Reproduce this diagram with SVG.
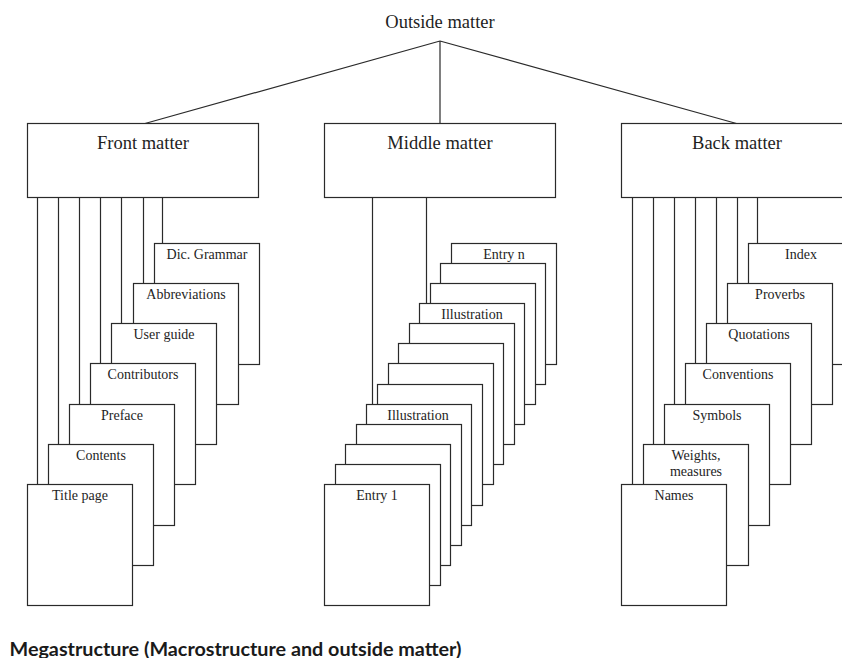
<svg xmlns="http://www.w3.org/2000/svg" width="842" height="658" viewBox="0 0 842 658">
<style>
  .box { fill: #fff; stroke: #2a2a2a; stroke-width: 1.2; }
  .pg { fill: #fff; stroke: #2a2a2a; stroke-width: 1.2; }
  .ln { fill: none; stroke: #2a2a2a; stroke-width: 1.2; }
  .t18 { font-family: "Liberation Serif", "Times New Roman", serif; font-size: 18.5px; fill: #1e1e1e; text-anchor: middle; }
  .t14 { font-family: "Liberation Serif", "Times New Roman", serif; font-size: 14px; fill: #1e1e1e; text-anchor: middle; }
  .cap { font-family: Lato, "Liberation Sans", Arial, sans-serif; font-weight: 700; font-size: 19px; fill: #1a1a1a; }
</style>
<rect width="842" height="658" fill="#fff"/>

<g id="outside-matter">
  <text class="t18" x="440" y="27.5">Outside matter</text>
</g>

<g id="connectors">
  <path class="ln" d="M440,41 L145,123.5 M440,41 L440,123.5 M440,41 L736.5,123.5"/>
  <!-- front matter links -->
  <path class="ln" d="M37.5,197.5 V484.5 M58.5,197.5 V444.5 M79.5,197.5 V404.5 M100.5,197.5 V363.5 M121.5,197.5 V323.5 M143.5,197.5 V283.5 M162.5,197.5 V243.5"/>
  <!-- middle matter links -->
  <path class="ln" d="M372.5,197.5 V404.5 M426.5,197.5 V303.5"/>
  <!-- back matter links -->
  <path class="ln" d="M632.5,197.5 V484.5 M653.5,197.5 V444.5 M674.5,197.5 V404.5 M695.5,197.5 V363.5 M716.5,197.5 V323.5 M737.5,197.5 V283.5 M757.5,197.5 V243.5"/>
</g>

<g id="front-matter">
  <rect class="box" x="27.5" y="123.5" width="231" height="74"/>
  <text class="t18" x="143" y="149">Front matter</text>
</g>
<g id="middle-matter">
  <rect class="box" x="324.5" y="123.5" width="231" height="74"/>
  <text class="t18" x="440" y="149">Middle matter</text>
</g>
<g id="back-matter">
  <rect class="box" x="621.5" y="123.5" width="231" height="74"/>
  <text class="t18" x="737" y="149">Back matter</text>
</g>

<!-- Front pages, back to front -->
<g id="dic-grammar"><rect class="pg" x="154.5" y="243.5" width="105" height="121"/><text class="t14" x="207" y="259">Dic. Grammar</text></g>
<g id="abbreviations"><rect class="pg" x="133.5" y="283.5" width="105" height="121"/><text class="t14" x="186" y="299">Abbreviations</text></g>
<g id="user-guide"><rect class="pg" x="111.5" y="323.5" width="105" height="121"/><text class="t14" x="164" y="339">User guide</text></g>
<g id="contributors"><rect class="pg" x="90.5" y="363.5" width="105" height="121"/><text class="t14" x="143" y="379">Contributors</text></g>
<g id="preface"><rect class="pg" x="69.5" y="404.5" width="105" height="121"/><text class="t14" x="122" y="420">Preface</text></g>
<g id="contents"><rect class="pg" x="48.5" y="444.5" width="105" height="121"/><text class="t14" x="101" y="460">Contents</text></g>
<g id="title-page"><rect class="pg" x="27.5" y="484.5" width="105" height="121"/><text class="t14" x="80" y="500">Title page</text></g>

<!-- Middle pages, back to front -->
<g id="entry-n"><rect class="pg" x="451.5" y="243.5" width="105" height="121"/><text class="t14" x="504" y="259">Entry n</text></g>
<g id="mid-p11"><rect class="pg" x="440.5" y="263.5" width="105" height="121"/></g>
<g id="mid-p10"><rect class="pg" x="430.5" y="283.5" width="105" height="121"/></g>
<g id="illustration-2"><rect class="pg" x="419.5" y="303.5" width="105" height="121"/><text class="t14" x="472" y="319">Illustration</text></g>
<g id="mid-p8"><rect class="pg" x="409.5" y="323.5" width="105" height="121"/></g>
<g id="mid-p7"><rect class="pg" x="398.5" y="343.5" width="105" height="121"/></g>
<g id="mid-p6"><rect class="pg" x="388.5" y="363.5" width="105" height="121"/></g>
<g id="mid-p5"><rect class="pg" x="377.5" y="384.5" width="105" height="121"/></g>
<g id="illustration-1"><rect class="pg" x="366.5" y="404.5" width="105" height="121"/><text class="t14" x="418" y="420">Illustration</text></g>
<g id="mid-p3"><rect class="pg" x="356.5" y="424.5" width="105" height="121"/></g>
<g id="mid-p2"><rect class="pg" x="345.5" y="444.5" width="105" height="121"/></g>
<g id="mid-p1"><rect class="pg" x="335.5" y="464.5" width="105" height="121"/></g>
<g id="entry-1"><rect class="pg" x="324.5" y="484.5" width="105" height="121"/><text class="t14" x="377" y="500">Entry 1</text></g>

<!-- Back pages, back to front -->
<g id="index"><rect class="pg" x="748.5" y="243.5" width="105" height="121"/><text class="t14" x="801" y="259">Index</text></g>
<g id="proverbs"><rect class="pg" x="727.5" y="283.5" width="105" height="121"/><text class="t14" x="780" y="299">Proverbs</text></g>
<g id="quotations"><rect class="pg" x="706.5" y="323.5" width="105" height="121"/><text class="t14" x="759" y="339">Quotations</text></g>
<g id="conventions"><rect class="pg" x="685.5" y="363.5" width="105" height="121"/><text class="t14" x="738" y="379">Conventions</text></g>
<g id="symbols"><rect class="pg" x="664.5" y="404.5" width="105" height="121"/><text class="t14" x="717" y="420">Symbols</text></g>
<g id="weights-measures"><rect class="pg" x="643.5" y="444.5" width="105" height="121"/><text class="t14" x="696" y="460">Weights,</text><text class="t14" x="696" y="476">measures</text></g>
<g id="names"><rect class="pg" x="621.5" y="484.5" width="105" height="121"/><text class="t14" x="674" y="500">Names</text></g>

<g id="caption">
  <text class="cap" x="9.5" y="655.5" textLength="452" lengthAdjust="spacingAndGlyphs">Megastructure (Macrostructure and outside matter)</text>
</g>
</svg>
